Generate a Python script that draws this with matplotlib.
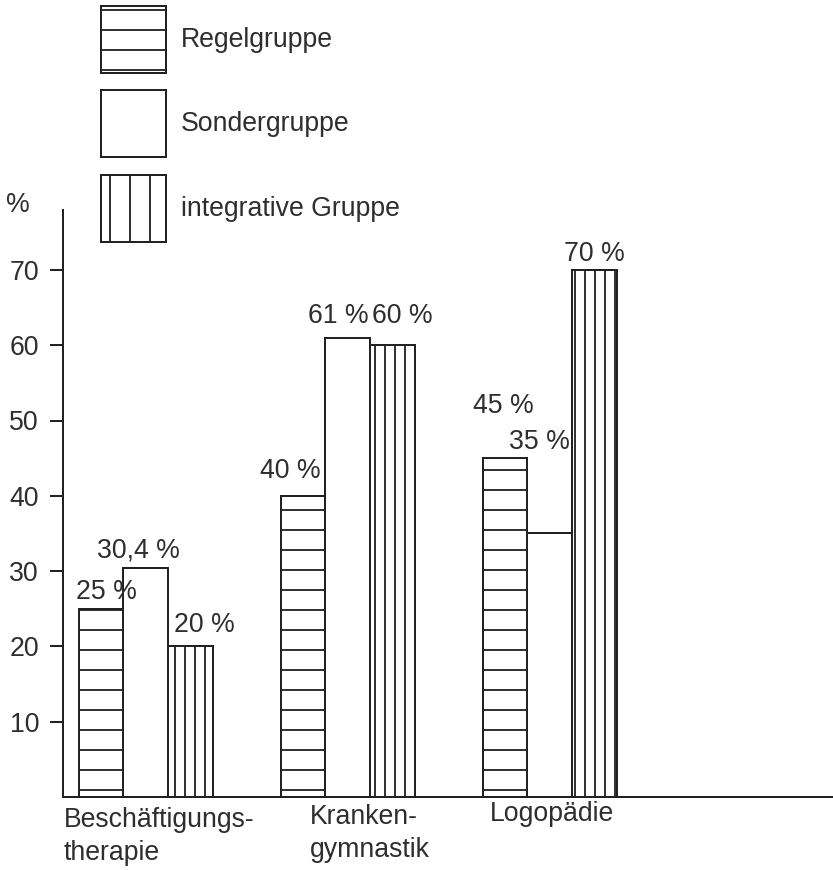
import matplotlib
matplotlib.use("Agg")
import matplotlib.pyplot as plt
from matplotlib.patches import Patch
import numpy as np

# ---- data ----
categories = ["Beschäftigungs-\ntherapie", "Kranken-\ngymnastik", "Logopädie"]
series_names = ["Regelgruppe", "Sondergruppe", "integrative Gruppe"]
regel = [25, 40, 45]
sonder = [30.4, 61, 35]
integrativ = [20, 60, 70]
value_labels = [["25 %", "40 %", "45 %"],
                ["30,4 %", "61 %", "35 %"],
                ["20 %", "60 %", "70 %"]]
yticks = [10, 20, 30, 40, 50, 60, 70]

# ---- style / layout ----
DPI = 120
W, H = 833, 870
px = 72.0 / DPI  # points per pixel
ink = "#222222"
txt = "#2e2e2e"
fs = 16
plt.rcParams["font.family"] = ["Liberation Sans", "DejaVu Sans"]
plt.rcParams["hatch.linewidth"] = 1.1

fig = plt.figure(figsize=(W / DPI, H / DPI), dpi=DPI)
ax = fig.add_axes([63 / W, (H - 797) / H, (W - 63) / W, 797 / H])
ax.set_ylim(0, 797 / 7.53)
ax.set_xlim(-0.41, -0.41 + (W - 63) / 202)

bw = 0.222
x = np.arange(len(categories))
series = [regel, sonder, integrativ]
hatches = ["-", None, "||"]
# label offsets in pixels (dx, dy above bar top)
lab_off = [[(5, 10), (-13, 18), (-2, 45)],
           [(-7, 11), (-10, 15), (-10, 84)],
           [(14, 14), (10, 22), (0, 9)]]
for i, (vals, h) in enumerate(zip(series, hatches)):
    xs = x + (i - 1) * bw
    ax.bar(xs, vals, bw, facecolor="white", edgecolor=ink, linewidth=1.2,
           hatch=h, zorder=2 + (0 if i == 1 else 1))
    for j, v in enumerate(vals):
        dx, dy = lab_off[i][j]
        ax.annotate(value_labels[i][j], (xs[j], v), xytext=(dx * px, dy * px),
                    textcoords="offset points", ha="center", va="baseline",
                    fontsize=fs, color=txt)

# axes styling
for s in ["top", "right"]:
    ax.spines[s].set_visible(False)
ax.spines["left"].set_bounds(0, 78)
ax.spines["left"].set_linewidth(1.2)
ax.spines["bottom"].set_linewidth(1.2)
ax.spines["left"].set_color(ink)
ax.spines["bottom"].set_color(ink)
ax.set_yticks(yticks)
ax.set_yticklabels([str(t) for t in yticks])
ax.tick_params(axis="y", direction="out", length=13 * px, width=1.2,
               pad=11 * px, labelsize=fs, colors=ink, labelcolor=txt)
ax.set_xticks([])

# category labels
cat_off = [(13, 10), (22, 7), (2, 4)]
for j, c in enumerate(categories):
    dx, dy = cat_off[j]
    ax.annotate(c, (x[j], 0), xytext=(dx * px, -dy * px), textcoords="offset points",
                ha="center", va="top", multialignment="left",
                fontsize=fs, color=txt, linespacing=1.35)

fig.text(6 / W, 1 - 212 / H, "%", fontsize=fs, color=txt, ha="left", va="baseline")

# legend
handles = [Patch(facecolor="white", edgecolor=ink, linewidth=1.2, hatch="-"),
           Patch(facecolor="white", edgecolor=ink, linewidth=1.2),
           Patch(facecolor="white", edgecolor=ink, linewidth=1.2, hatch="|")]
em = fs / px
fig.legend(handles, series_names, loc="upper left",
           bbox_to_anchor=(101 / W, 1 - 6 / H), frameon=False,
           fontsize=fs, labelcolor=txt, handlelength=65 / em,
           handleheight=65 / 0.7 / em,
           labelspacing=0.66, handletextpad=15 / em, borderpad=0,
           borderaxespad=0)

fig.savefig("out.png", dpi=DPI, facecolor="white")
